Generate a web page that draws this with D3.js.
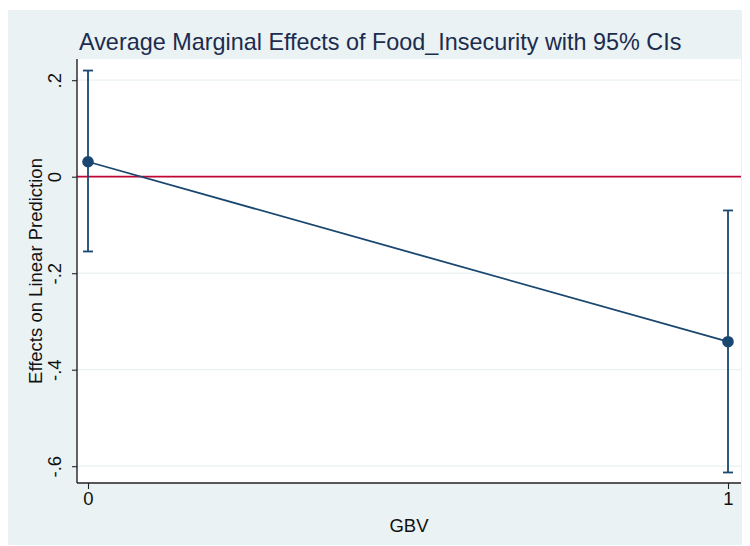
<!DOCTYPE html>
<html>
<head>
<meta charset="utf-8">
<script src="https://cdnjs.cloudflare.com/ajax/libs/d3/7.8.5/d3.min.js"></script>
<style>
  body { margin: 0; background: #fff; }
  text { font-family: "Liberation Sans", Arial, sans-serif; }
</style>
</head>
<body>
<svg id="chart" width="750" height="546"></svg>
<script>
// values
var groups = [0, 1]
var estimates = [0.031, -0.342]
var ciLow = [-0.155, -0.613]
var ciHigh = [0.220, -0.070]
var yTicks = [0.2, 0, -0.2, -0.4, -0.6]
var yTickLabels = [".2", "0", "-.2", "-.4", "-.6"]
var xTickLabels = ["0", "1"]

var navy = "#1a476f"
var bg = "#eaf2f3"

var svg = d3.select("#chart")

// outer graph region
svg.append("rect")
    .attr("x", 8).attr("y", 10)
    .attr("width", 734).attr("height", 535)
    .attr("fill", bg)

var plot = { left: 77, right: 741, top: 59, bottom: 483 }

svg.append("rect")
    .attr("x", plot.left).attr("y", plot.top)
    .attr("width", plot.right - plot.left).attr("height", plot.bottom - plot.top)
    .attr("fill", "#fff")

var x = d3.scaleLinear().domain([0, 1]).range([88, 728])
var y = d3.scaleLinear().domain([0, -0.6]).range([176.7, 466.2])

// gridlines
svg.append("g")
    .selectAll("line")
    .data(yTicks)
    .join("line")
    .attr("x1", plot.left).attr("x2", plot.right)
    .attr("y1", d => y(d)).attr("y2", d => y(d))
    .attr("stroke", bg)
    .attr("stroke-width", 1.2)

// reference line at zero
svg.append("line")
    .attr("x1", plot.left).attr("x2", plot.right)
    .attr("y1", y(0)).attr("y2", y(0))
    .attr("stroke", "#c10534")
    .attr("stroke-width", 1.7)

// y axis
var yAxis = d3.axisLeft(y)
    .tickValues(yTicks)
    .tickSize(5)
    .tickFormat((d, i) => yTickLabels[i])
var gy = svg.append("g")
    .attr("transform", "translate(" + plot.left + ",0)")
    .call(yAxis)
gy.select(".domain")
    .attr("d", "M0," + plot.top + "V" + plot.bottom)
    .attr("stroke", "#222").attr("stroke-width", 1.4)
gy.selectAll(".tick line").attr("stroke", "#222").attr("stroke-width", 1.1)
gy.selectAll(".tick text")
    .attr("font-size", 18.5)
    .attr("fill", "#111")
    .attr("text-anchor", "middle")
    .attr("x", 0).attr("dy", 0)
    .attr("transform", "translate(-16,0) rotate(-90)")

// x axis
var xAxis = d3.axisBottom(x)
    .tickValues(groups)
    .tickSize(6)
    .tickFormat((d, i) => xTickLabels[i])
var gx = svg.append("g")
    .attr("transform", "translate(0," + plot.bottom + ")")
    .call(xAxis)
gx.select(".domain")
    .attr("d", "M" + plot.left + ",0H" + plot.right)
    .attr("stroke", "#222").attr("stroke-width", 1.4)
gx.selectAll(".tick line").attr("stroke", "#222").attr("stroke-width", 1.1)
gx.selectAll(".tick text")
    .attr("font-size", 18.5)
    .attr("fill", "#111")
    .attr("y", 9).attr("dy", "0.71em")

// confidence intervals
var data = groups.map((g, i) => ({ g: g, est: estimates[i], lo: ciLow[i], hi: ciHigh[i] }))
var ci = svg.append("g").attr("stroke", navy).attr("stroke-width", 1.8)
ci.selectAll(".ci")
    .data(data)
    .join("line")
    .attr("x1", d => x(d.g)).attr("x2", d => x(d.g))
    .attr("y1", d => y(d.lo)).attr("y2", d => y(d.hi))
ci.selectAll(".caphi")
    .data(data)
    .join("line")
    .attr("x1", d => x(d.g) - 5).attr("x2", d => x(d.g) + 5)
    .attr("y1", d => y(d.hi)).attr("y2", d => y(d.hi))
ci.selectAll(".caplo")
    .data(data)
    .join("line")
    .attr("x1", d => x(d.g) - 5).attr("x2", d => x(d.g) + 5)
    .attr("y1", d => y(d.lo)).attr("y2", d => y(d.lo))

// connecting line
svg.append("path")
    .datum(data)
    .attr("fill", "none")
    .attr("stroke", navy)
    .attr("stroke-width", 1.8)
    .attr("d", d3.line().x(d => x(d.g)).y(d => y(d.est)))

svg.append("g")
    .selectAll("circle")
    .data(data)
    .join("circle")
    .attr("cx", d => x(d.g)).attr("cy", d => y(d.est))
    .attr("r", 5.8)
    .attr("fill", navy)

// titles
svg.append("text")
    .attr("x", 79).attr("y", 50)
    .attr("font-size", 23.4)
    .attr("fill", "#1c2c4e")
    .text("Average Marginal Effects of Food_Insecurity with 95% CIs")

svg.append("text")
    .attr("transform", "translate(42," + ((plot.top + plot.bottom) / 2) + ") rotate(-90)")
    .attr("text-anchor", "middle")
    .attr("font-size", 18.5)
    .attr("fill", "#111")
    .text("Effects on Linear Prediction")

svg.append("text")
    .attr("x", (plot.left + plot.right) / 2).attr("y", 532)
    .attr("text-anchor", "middle")
    .attr("font-size", 18.5)
    .attr("fill", "#111")
    .text("GBV")
</script>
</body>
</html>
